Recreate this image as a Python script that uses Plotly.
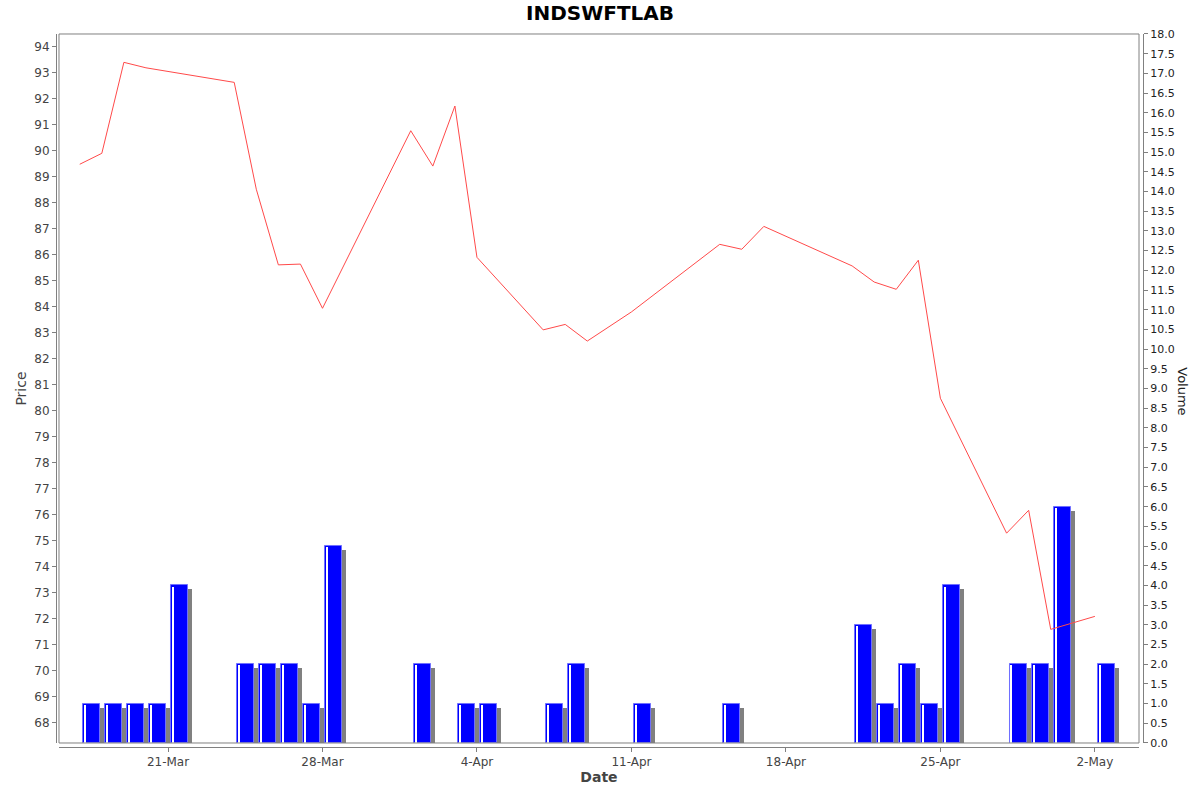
import plotly.graph_objects as go
import pandas as pd

# price series (close)
price_dates = ["2019-03-17", "2019-03-18", "2019-03-19", "2019-03-20", "2019-03-24",
               "2019-03-25", "2019-03-26", "2019-03-27", "2019-03-28", "2019-04-01",
               "2019-04-02", "2019-04-03", "2019-04-04", "2019-04-07", "2019-04-08",
               "2019-04-09", "2019-04-11", "2019-04-15", "2019-04-16", "2019-04-17",
               "2019-04-21", "2019-04-22", "2019-04-23", "2019-04-24", "2019-04-25",
               "2019-04-28", "2019-04-29", "2019-04-30", "2019-05-02"]
prices = [89.49, 89.91, 93.41, 93.20, 92.64,
          88.53, 85.62, 85.65, 83.95, 90.78,
          89.42, 91.73, 85.91, 83.12, 83.33,
          82.69, 83.81, 86.41, 86.22, 87.10,
          85.58, 84.96, 84.68, 85.80, 80.49,
          75.30, 76.18, 71.60, 72.10]

# volume bars
vol_dates = ["2019-03-17", "2019-03-18", "2019-03-19", "2019-03-20", "2019-03-21",
             "2019-03-24", "2019-03-25", "2019-03-26", "2019-03-27", "2019-03-28",
             "2019-04-01", "2019-04-03", "2019-04-04", "2019-04-07", "2019-04-08",
             "2019-04-11", "2019-04-15", "2019-04-21", "2019-04-22", "2019-04-23",
             "2019-04-24", "2019-04-25", "2019-04-28", "2019-04-29", "2019-04-30",
             "2019-05-02"]
volumes = [1, 1, 1, 1, 4,
           2, 2, 2, 1, 5,
           2, 1, 1, 1, 2,
           1, 1, 3, 1, 2,
           1, 4, 2, 2, 6,
           2]

DAY_MS = 86400000
PX_MS = DAY_MS / 22.07          # one screen pixel along the date axis
BAR_W = 17 * PX_MS

vd = pd.to_datetime(vol_dates)
bar_x = vd + pd.Timedelta(milliseconds=0.52 * DAY_MS)
shadow_x = bar_x + pd.Timedelta(milliseconds=4 * PX_MS)
stripe_x = bar_x - pd.Timedelta(milliseconds=6.5 * PX_MS)

fig = go.Figure()

# bar shadow
fig.add_trace(go.Bar(
    x=shadow_x, y=[v - 0.1 for v in volumes], width=BAR_W,
    marker=dict(color="#808080", line=dict(width=0)),
    yaxis="y", hoverinfo="skip", showlegend=False
))
# volume bars
fig.add_trace(go.Bar(
    x=bar_x, y=volumes, width=BAR_W,
    marker=dict(color="#0000ff", line=dict(color="#7070ff", width=1)),
    yaxis="y", name="Volume", showlegend=False
))
# light stripe near the left edge of each bar
fig.add_trace(go.Bar(
    x=stripe_x, y=[v - 0.03 for v in volumes], width=1.2 * PX_MS,
    marker=dict(color="#ffffff", line=dict(width=0)),
    yaxis="y", hoverinfo="skip", showlegend=False
))

# price line (on the overlaying axis so it is drawn on top)
fig.add_trace(go.Scatter(
    x=pd.to_datetime(price_dates), y=prices, mode="lines",
    line=dict(color="#ff4a4a", width=1),
    yaxis="y2", name="Price", showlegend=False
))

fig.update_layout(
    width=1200, height=792,
    margin=dict(l=40, r=40, t=30, b=40, autoexpand=False),
    paper_bgcolor="white", plot_bgcolor="white",
    barmode="overlay", bargap=0,
    title=dict(text="<b>INDSWFTLAB</b>", x=0.5, y=0.984, xanchor="center", yanchor="middle",
               font=dict(family="DejaVu Sans", size=20, color="black")),
    font=dict(family="DejaVu Sans", color="#444444"),
    xaxis=dict(
        type="date", domain=[0.01696, 0.98125],
        range=["2019-03-16 01:26", "2019-05-04 00:00"],
        tick0="2019-03-21", dtick=7 * DAY_MS, tickformat="%-d-%b",
        ticks="outside", ticklen=4, tickcolor="#808080",
        showline=True, linecolor="#808080", linewidth=1,
        anchor="free", position=0.0069, automargin=False,
        showgrid=False, zeroline=False,
        tickfont=dict(size=12, color="#444444"),
        title=dict(text="<b>Date</b>", font=dict(size=14, color="#444444"), standoff=3),
    ),
    yaxis=dict(
        domain=[0.01247, 0.99446], range=[0, 18], dtick=0.5, tick0=0, tickformat=".1f",
        side="right", anchor="free", position=0.98482, automargin=False,
        ticks="outside", ticklen=4, tickcolor="#808080",
        showline=True, linecolor="#808080", linewidth=1,
        showgrid=False, zeroline=False,
        tickfont=dict(size=11, color="#222222"),
    ),
    yaxis2=dict(
        overlaying="y", range=[67.23, 94.5], dtick=1, tick0=68,
        side="left", anchor="free", position=0.01429, automargin=False,
        ticks="outside", ticklen=4, tickcolor="#808080",
        showline=True, linecolor="#808080", linewidth=1,
        showgrid=False, zeroline=False,
        tickfont=dict(size=12, color="#444444"),
        title=dict(text="Price", font=dict(size=14, color="#444444"), standoff=3),
    ),
)

# plot frame
fig.add_shape(type="rect", xref="x domain", yref="y domain", x0=0, x1=1, y0=0, y1=1,
              line=dict(color="#808080", width=1), layer="above")

# right axis title reads top to bottom
fig.add_annotation(text="Volume", xref="paper", yref="paper", x=1.0203, y=0.5,
                   textangle=90, showarrow=False, xanchor="center", yanchor="middle",
                   font=dict(family="DejaVu Sans", size=13, color="#222222"))

# drop the default page margin so the chart sits at the window's top-left corner
fig.write_html("out.html", config={"displayModeBar": False},
               post_script="document.body.style.margin='0px';")
